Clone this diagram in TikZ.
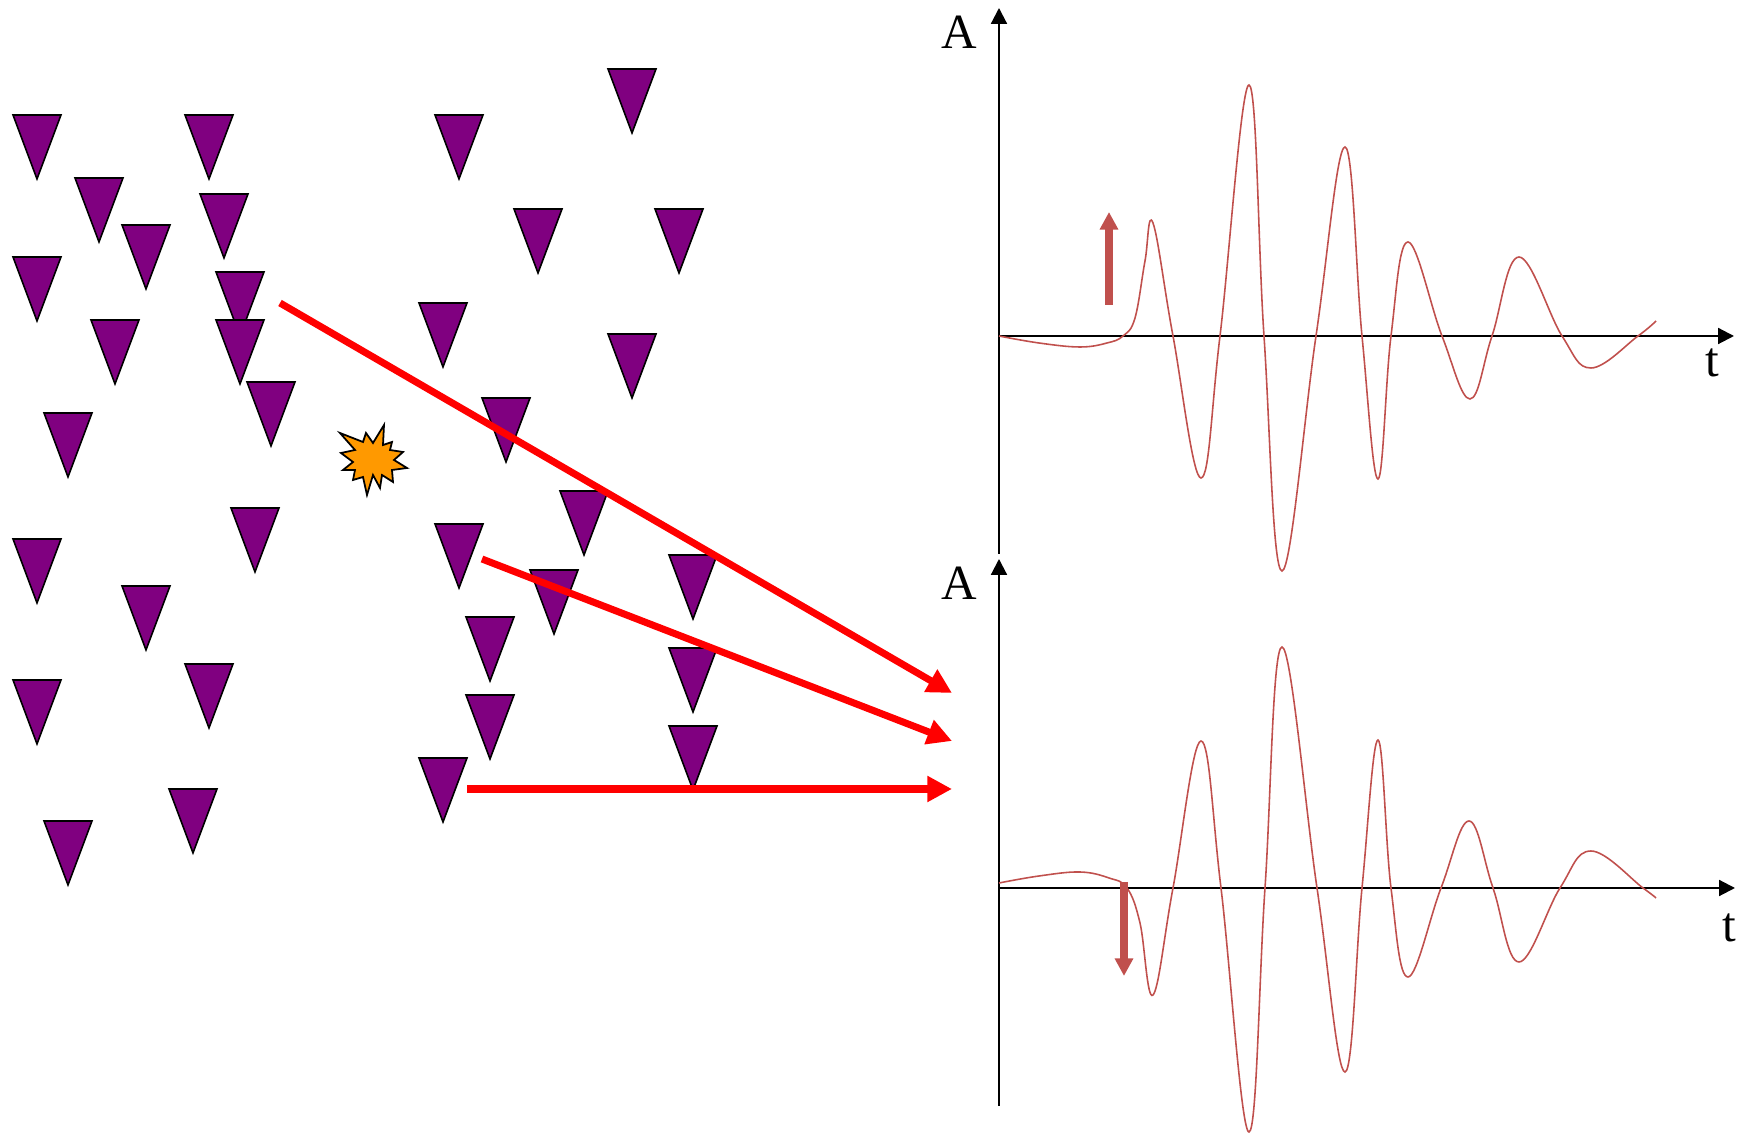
\documentclass[tikz,border=0pt]{standalone}
\usepackage{fontspec}
\setmainfont{Liberation Serif}
\usetikzlibrary{arrows.meta}

\definecolor{station}{RGB}{128,0,128}
\definecolor{wave}{RGB}{192,80,77}
\definecolor{burst}{RGB}{255,153,0}

\begin{document}
\begin{tikzpicture}[x=0.01cm,y=-0.01cm,font=\fontsize{14}{16}\selectfont,
  ray/.style={red,line width=2pt,-{Triangle[length=7pt,width=7pt]}},
  axis/.style={line width=0.6pt,-{Triangle[length=4.5pt,width=4.5pt]}},
  trace/.style={wave,line width=0.45pt},
  polarity/.style={wave,line width=2pt,-{Triangle[length=5pt,width=5pt]}}]

\useasboundingbox (0,0) rectangle (1747,1134);

% Stations
\foreach \x/\y in {632/69,37/115,209/115,459/115,99/178,224/194,538/209,679/209,
                   146/225,37/257,240/272,443/303,115/320,240/320,632/334,271/382,
                   506/398,68/413,584/491,255/508,459/524,37/539,693/555,554/570,
                   146/586,490/617,693/648,209/664,37/680,490/695,693/726,443/758,
                   193/789,68/821}
{
  \filldraw[fill=station,line width=0.45pt] (\x-24,\y) -- (\x+24,\y) -- (\x,\y+64) -- cycle;
}

% Source
\filldraw[fill=burst,line width=0.5pt]
(340,433) -- (363,442) -- (366,433) -- (373,443) -- (384,425) -- (383,445)
-- (392,442) -- (390,450) -- (403,452) -- (394,460) -- (407,468) -- (392,470)
-- (393,482) -- (382,475) -- (380,488) -- (373,475) -- (367,495) -- (363,477)
-- (353,480) -- (355,470) -- (343,470) -- (353,462) -- (341,453) -- (355,450) -- cycle;

% Rays
\coordinate (src1) at (280,303);
\coordinate (src2) at (482,559);
\coordinate (src3) at (467,789);
\coordinate (rec1) at (952,693);
\coordinate (rec2) at (952,741);
\coordinate (rec3) at (952,789);
\draw[ray] (src1) -- (rec1);
\draw[ray] (src2) -- (rec2);
\draw[ray] (src3) -- (rec3);

% Axes
\coordinate (O1) at (999,336);
\coordinate (O2) at (999,888);
\draw[line width=0.6pt] (999,554) -- (O1);
\draw[axis] (O1) -- (999,8);
\draw[axis] (O1) -- (1734,336);
\draw[line width=0.6pt] (999,1106) -- (O2);
\draw[axis] (O2) -- (999,559);
\draw[axis] (O2) -- (1735,888);
\node (A1) at (959,32) {A};
\node (t1) at (1712,363) {t};
\node (A2) at (959,583) {A};
\node (t2) at (1729,928) {t};

% Traces
\begin{scope}[shift={(O1)},yscale=-1]
  \draw[trace] plot[smooth,tension=0.65] coordinates {(0,0) (40,-7) (81,-11) (108,-7) (124,0)
    (136,18) (146,75) (154,113) (174,0) (202,-142) (221,0) (250,251) (265,0) (283,-235)
    (317,0) (346,189) (363,0) (379,-143) (392,0) (409,94) (443,0) (471,-63) (493,0)
    (520,79) (563,0) (592,-32) (639,0) (657,15)};
\end{scope}
\begin{scope}[shift={(O2)},yscale=-1]
  \draw[trace] plot[smooth,tension=0.65] coordinates {(0,5) (40,12) (81,16) (110,10) (128,0)
    (141,-35) (154,-107) (174,0) (202,147) (222,0) (250,-244) (266,0) (283,241) (318,0)
    (346,-184) (363,0) (379,148) (392,0) (409,-89) (442,0) (470,67) (494,0) (520,-74)
    (561,0) (592,37) (644,0) (657,-10)};
\end{scope}

% First motion
\coordinate (up0) at (1109,305);
\coordinate (up1) at (1109,212);
\coordinate (dn0) at (1124,882);
\coordinate (dn1) at (1124,976);
\draw[polarity] (up0) -- (up1);
\draw[polarity] (dn0) -- (dn1);

\end{tikzpicture}
\end{document}
